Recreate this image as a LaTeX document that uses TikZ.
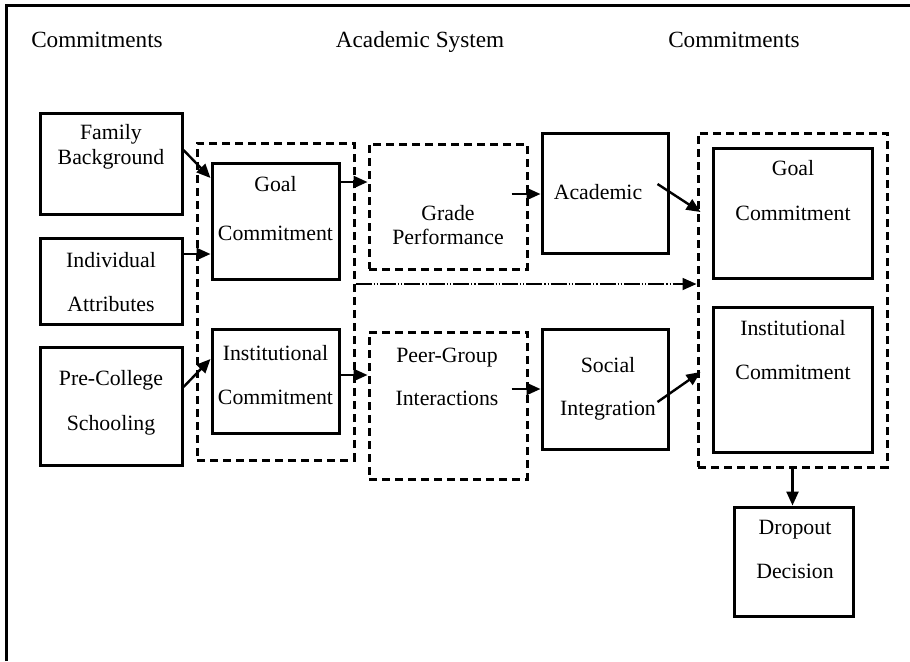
\documentclass[tikz,border=0pt]{standalone}
\usepackage{fontspec}
\setmainfont{Liberation Serif}
\usetikzlibrary{arrows.meta}
\begin{document}
\begin{tikzpicture}[x=0.5pt,y=-0.5pt,
  box/.style={draw,line width=1.5pt,rectangle,inner sep=0pt},
  dbox/.style={draw,line width=1.5pt,rectangle,inner sep=0pt,dash pattern=on 4pt off 2.5pt},
  txt/.style={font=\fontsize{10.9}{22}\selectfont,align=center,inner sep=0pt},
  head/.style={font=\fontsize{11.6}{14}\selectfont,inner sep=0pt,text height=8.2pt,text depth=2.4pt},
  arr/.style={line width=1.2pt,-{Triangle[length=7pt,width=6pt]}},
  darr/.style={line width=0.9pt,dash pattern=on 8pt off 1pt on 0.6pt off 1pt on 0.6pt off 1pt,-{Triangle[length=7pt,width=6pt]}}]
\useasboundingbox (0,0) rectangle (910,661);
% frame (top and left edges visible)
\coordinate (fa) at (6,661);
\coordinate (fb) at (6,5);
\coordinate (fc) at (910,5);
\draw[line width=1.5pt] (fa) -- (fb) -- (fc);
% headers
\node[head] (h1) at (97,42) {Commitments};
\node[head] (h2) at (420,42) {Academic System};
\node[head] (h3) at (734,42) {Commitments};
% boxes
\node[box,minimum width=71pt,minimum height=50.5pt] (fam) at (111,163.5) {};
\node[box,minimum width=71pt,minimum height=43pt] (ind) at (111,281) {};
\node[box,minimum width=71pt,minimum height=59pt] (pre) at (111,406) {};
\node[dbox,minimum width=78.5pt,minimum height=158.5pt] (dashL) at (275.5,301.5) {};
\node[box,minimum width=63.5pt,minimum height=58pt] (goalL) at (275.5,221) {};
\node[box,minimum width=63.5pt,minimum height=52pt] (instL) at (275.5,381) {};
\node[dbox,minimum width=79pt,minimum height=62.5pt] (grade) at (448,206.5) {};
\node[box,minimum width=63pt,minimum height=60pt] (acad) at (605,193) {};
\node[dbox,minimum width=79pt,minimum height=73.5pt] (peer) at (448,405.5) {};
\node[box,minimum width=63pt,minimum height=60pt] (soc) at (605,389) {};
\node[dbox,minimum width=94.5pt,minimum height=167pt] (dashR) at (792.5,300) {};
\node[box,minimum width=79.5pt,minimum height=65pt] (goalR) at (792.5,213) {};
\node[box,minimum width=79.5pt,minimum height=72.5pt] (instR) at (792.5,379.5) {};
\node[box,minimum width=59.5pt,minimum height=54.5pt] (drop) at (793.5,561.5) {};
% texts
\node[txt,font=\fontsize{10.9}{12.5}\selectfont] (famT) at (111,146.5) {Family\\Background};
\node[txt] (indT) at (111,282) {Individual\\Attributes};
\node[txt,font=\fontsize{10.9}{22.5}\selectfont] (preT) at (111,402.5) {Pre-College\\Schooling};
\node[txt,font=\fontsize{10.9}{24.5}\selectfont] (goalLT) at (275.5,208.5) {Goal\\Commitment};
\node[txt] (instLT) at (275.5,375) {Institutional\\Commitment};
\node[txt,font=\fontsize{10.9}{12}\selectfont] (gradeT) at (448,225) {Grade\\Performance};
\node[txt,text height=7.7pt,text depth=2.3pt] (acadT) at (598,194) {Academic};
\node[txt,font=\fontsize{10.9}{21.5}\selectfont] (peerT) at (447,376.5) {Peer-Group\\Interactions};
\node[txt,font=\fontsize{10.9}{21.5}\selectfont] (socT) at (608,388.5) {Social\\Integration};
\node[txt,font=\fontsize{10.9}{22.5}\selectfont] (goalRT) at (793,190.5) {Goal\\Commitment};
\node[txt] (instRT) at (793,350) {Institutional\\Commitment};
\node[txt] (dropT) at (795,549) {Dropout\\Decision};
% arrow start points inside the dashed boxes
\coordinate (gs) at ([xshift=-8.5pt,yshift=6.25pt]grade.east);
\coordinate (ps) at ([xshift=-8.5pt,yshift=8.25pt]peer.east);
% arrows
\draw[arr] ([yshift=6.75pt]fam.east) -- ([yshift=21.5pt]goalL.west);
\draw[arr] ([yshift=13.5pt]ind.east) -- ([yshift=13.5pt]ind.east -| goalL.west);
\draw[arr] ([yshift=9.5pt]pre.east) -- ([yshift=11pt]instL.west);
\draw[arr] ([yshift=19.5pt]goalL.east) -- ([yshift=19.5pt]goalL.east -| grade.west);
\draw[arr] ([yshift=3pt]instL.east) -- ([yshift=3pt]instL.east -| peer.west);
\draw[arr] (gs) -- (gs -| acad.west);
\draw[arr] (ps) -- (ps -| soc.west);
\draw[arr] ([xshift=-6pt,yshift=4.5pt]acad.east) -- ([xshift=2pt,yshift=44pt]dashR.west);
\draw[arr] ([xshift=-6pt,yshift=-6.5pt]soc.east) -- ([xshift=2pt,yshift=-36pt]dashR.west);
\draw[darr] ([yshift=8.75pt]dashL.east) -- ([yshift=8.75pt]dashL.east -| dashR.west);
\draw[arr] (dashR.south) -- (dashR.south |- drop.north);
\end{tikzpicture}
\end{document}
